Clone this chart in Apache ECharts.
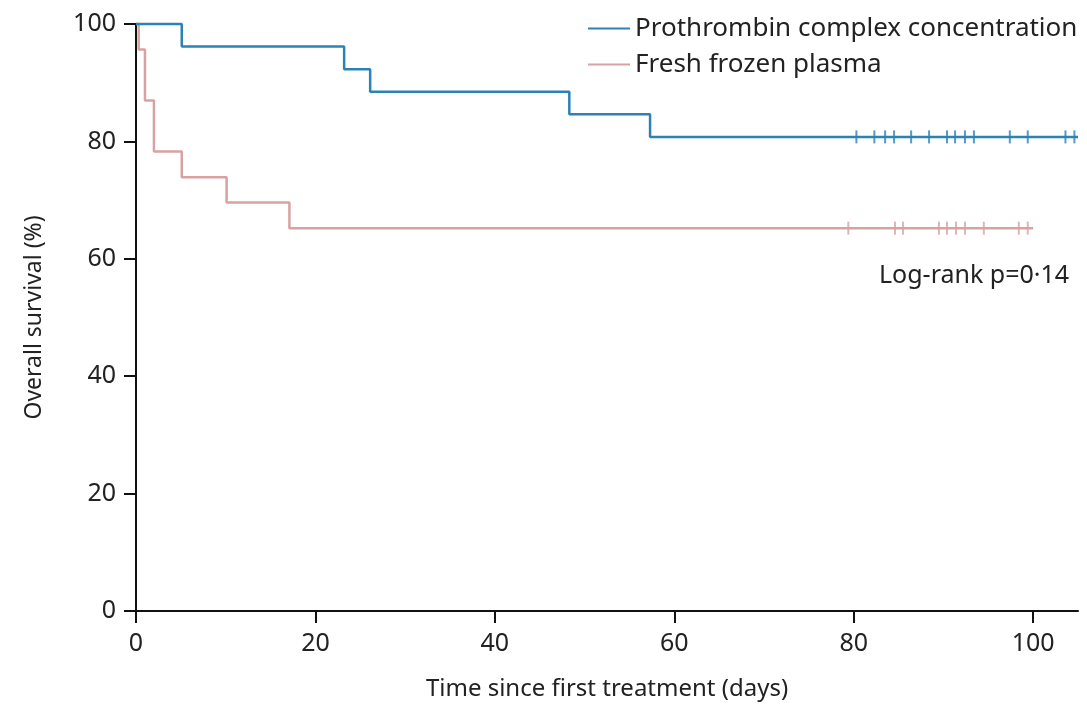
<!DOCTYPE html>
<html>
<head>
<meta charset="utf-8">
<script src="https://cdn.jsdelivr.net/npm/echarts@6/dist/echarts.min.js"></script>
<style>
  html, body { margin: 0; padding: 0; background: #fff; }
  #chart { width: 1087px; height: 714px; }
</style>
</head>
<body>
<div id="chart"></div>
<script>
// Kaplan-Meier steps: [day, survival %] after each event
const pccSteps = [[0, 100], [5.1, 96.15], [23.2, 92.31], [26.1, 88.46], [48.3, 84.62], [57.3, 80.77], [105, 80.77]]
const ffpSteps = [[0, 100], [0.3, 95.65], [1.0, 86.96], [2.0, 78.26], [5.1, 73.91], [10.1, 69.57], [17.1, 65.22], [100, 65.22]]

// censored patients (days)
const pccCensorDays = [80.3, 82.3, 83.5, 84.5, 86.4, 88.4, 90.4, 91.3, 92.4, 93.4, 97.4, 99.4, 103.6, 104.6]
const pccCensorLevel = 80.77
const ffpCensorDays = [79.4, 84.6, 85.5, 89.5, 90.4, 91.4, 92.4, 94.5, 98.4, 99.4]
const ffpCensorLevel = 65.22

const xTicks = [0, 20, 40, 60, 80, 100]
const seriesNames = ['Prothrombin complex concentration', 'Fresh frozen plasma']

const blue = '#2c82b5'
const pink = '#d9a2a2'
const font = 'Noto Sans'

const chart = echarts.init(document.getElementById('chart'))

chart.setOption({
  animation: false,
  backgroundColor: '#fff',
  textStyle: { fontFamily: font },
  grid: { left: 136, right: 9, top: 24, bottom: 103 },
  legend: {
    data: seriesNames,
    orient: 'vertical',
    left: 583,
    top: 6,
    icon: 'rect',
    itemWidth: 42,
    itemHeight: 2,
    itemGap: 1,
    textStyle: { fontFamily: font, fontSize: 26, color: '#222', lineHeight: 35 }
  },
  xAxis: {
    type: 'value',
    min: 0,
    max: 105,
    interval: 20,
    name: 'Time since first treatment (days)',
    nameLocation: 'middle',
    nameGap: 66,
    nameTextStyle: { fontSize: 24, color: '#222' },
    splitLine: { show: false },
    axisLine: { onZero: false, lineStyle: { color: '#111', width: 2 } },
    axisTick: { customValues: xTicks, length: 12, lineStyle: { color: '#111', width: 2 } },
    axisLabel: { customValues: xTicks, fontSize: 25, color: '#222', margin: 20 }
  },
  yAxis: {
    type: 'value',
    min: 0,
    max: 100,
    interval: 20,
    name: 'Overall survival (%)',
    nameLocation: 'middle',
    nameGap: 90,
    nameTextStyle: { fontSize: 23, color: '#222' },
    splitLine: { show: false },
    axisLine: { lineStyle: { color: '#111', width: 2 } },
    axisTick: { length: 12, lineStyle: { color: '#111', width: 2 } },
    axisLabel: { fontSize: 25, color: '#222', margin: 20 }
  },
  graphic: [{
    type: 'text',
    left: 879,
    top: 263,
    style: { text: 'Log-rank p=0·14', font: '25px "Noto Sans"', fill: '#222' }
  }],
  series: [
    {
      name: seriesNames[1],
      type: 'line',
      step: 'end',
      symbol: 'none',
      clip: false,
      data: ffpSteps,
      lineStyle: { color: pink, width: 2.5 },
      itemStyle: { color: pink }
    },
    {
      name: seriesNames[0],
      type: 'line',
      step: 'end',
      symbol: 'none',
      clip: false,
      data: pccSteps,
      lineStyle: { color: blue, width: 2.5 },
      itemStyle: { color: blue }
    },
    {
      name: 'ffp-censor',
      type: 'scatter',
      symbol: 'rect',
      symbolSize: [2, 13],
      data: ffpCensorDays.map(d => [d, ffpCensorLevel]),
      itemStyle: { color: pink }
    },
    {
      name: 'pcc-censor',
      type: 'scatter',
      symbol: 'rect',
      symbolSize: [2, 13],
      data: pccCensorDays.map(d => [d, pccCensorLevel]),
      itemStyle: { color: blue }
    }
  ]
})
</script>
</body>
</html>
